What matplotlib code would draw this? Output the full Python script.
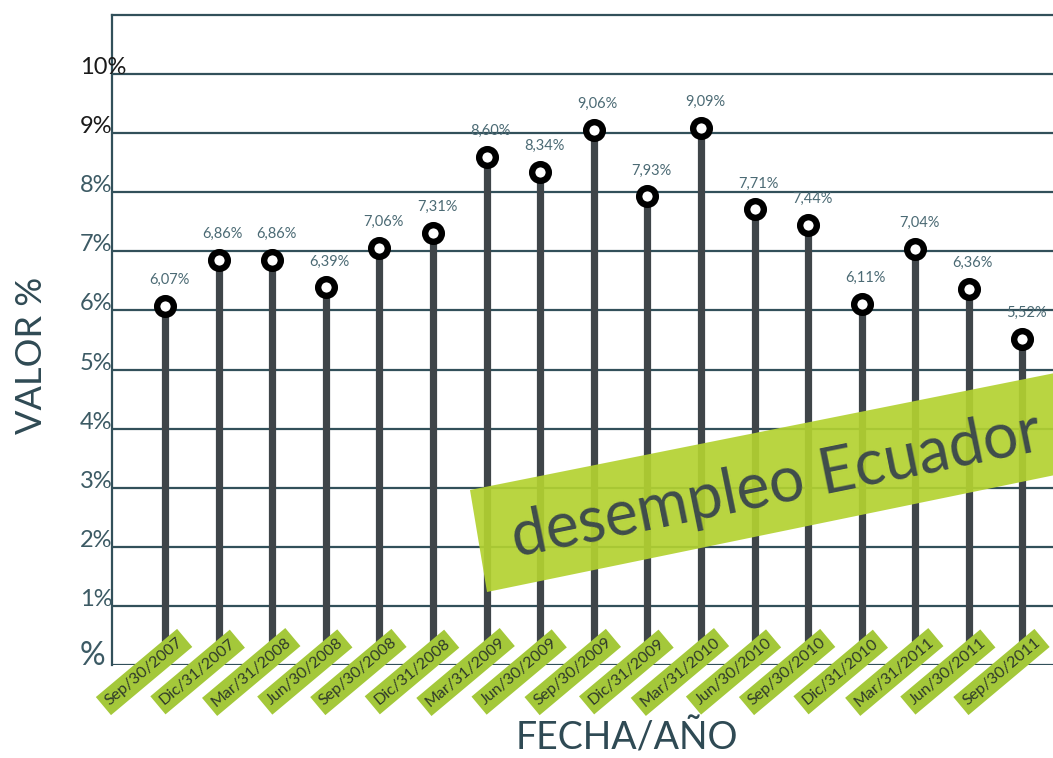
import matplotlib.pyplot as plt
from matplotlib.patches import Polygon

plt.rcParams['font.family'] = ['Lato', 'DejaVu Sans']

fechas = ["Sep/30/2007", "Dic/31/2007", "Mar/31/2008", "Jun/30/2008",
          "Sep/30/2008", "Dic/31/2008", "Mar/31/2009", "Jun/30/2009",
          "Sep/30/2009", "Dic/31/2009", "Mar/31/2010", "Jun/30/2010",
          "Sep/30/2010", "Dic/31/2010", "Mar/31/2011", "Jun/30/2011",
          "Sep/30/2011"]
valores = [6.07, 6.86, 6.86, 6.39, 7.06, 7.31, 8.60, 8.34, 9.06,
           7.93, 9.09, 7.71, 7.44, 6.11, 7.04, 6.36, 5.52]
y_ticks = [0, 1, 2, 3, 4, 5, 6, 7, 8, 9, 10]
y_labels = ["%", "1%", "2%", "3%", "4%", "5%", "6%", "7%", "8%", "9%", "10%"]

W, H = 1053, 758
fig = plt.figure(figsize=(W / 100, H / 100), dpi=100)
ax = fig.add_axes([112 / W, 1 - 665 / H, (W - 112) / W + 0.01, (665 - 15) / H])

grid_col = "#32505a"
verde = "#a4c83a"

x = list(range(len(valores)))
ax.set_xlim(-0.99, 16.57 + 0.01 * W / 53.6)
ax.set_ylim(0, 11)

for t in y_ticks:
    ax.axhline(t, color=grid_col, lw=1.6, zorder=1)
for s in ["right", "bottom"]:
    ax.spines[s].set_visible(False)
for s in ["left", "top"]:
    ax.spines[s].set_color(grid_col)
    ax.spines[s].set_linewidth(1.6)
ax.set_xticks([])
ax.set_yticks([])

# stems + markers
ax.vlines(x, 0, valores, color="#3f4549", lw=5.2, zorder=2)
ax.plot(x, valores, "o", ms=12, mfc="white", mec="black", mew=4.6, zorder=3)

# value labels
for xi, v in zip(x, valores):
    ax.annotate(f"{v:.2f}%".replace(".", ","), (xi, v), xytext=(4, 26),
                textcoords="offset pixels", ha="center", va="center",
                fontsize=10.5, color="#4b6a74", zorder=4)

# y tick labels (left aligned, sitting on the gridline)
ytr = ax.get_yaxis_transform()
for t, lab in zip(y_ticks, y_labels):
    col = "#1a1a1a" if t >= 9 else "#3c5a64"
    fs = 23 if t == 0 else 17
    ax.text(-32 / 941, t, lab, transform=ytr, ha="left", va="baseline",
            fontsize=fs, color=col, zorder=4, clip_on=False)

# date labels on green boxes
for xi, f in zip(x, fechas):
    ax.annotate(f, (xi, 0), xytext=(-21, -7), textcoords="offset pixels",
                ha="center", va="center", rotation=40, fontsize=11.5,
                color="#2f3a2a", zorder=6, annotation_clip=False,
                bbox=dict(boxstyle="square,pad=0.3", fc=verde, ec="none"))

# axis titles
fig.text(32 / W, 1 - 355 / H, "VALOR %", rotation=90, ha="center",
         va="center", fontsize=26, color="#2f4a54")
fig.text(627 / W, 1 - 738 / H, "FECHA/AÑO", ha="center", va="center",
         fontsize=27, color="#2f4a54")

# banner
pts = [(470, 490), (487, 592), (1060, 474), (1060, 372)]
banner = Polygon([(px / W, 1 - py / H) for px, py in pts], closed=True,
                 transform=fig.transFigure, fc="#b3d231", ec="none",
                 alpha=0.92, zorder=5)
fig.add_artist(banner)
fig.text(776 / W, 1 - 486 / H, "desempleo Ecuador", rotation=11.5,
         rotation_mode="anchor", ha="center", va="center", fontsize=45,
         color="#3f4c4c", zorder=6)

fig.savefig("out.png", dpi=100)
